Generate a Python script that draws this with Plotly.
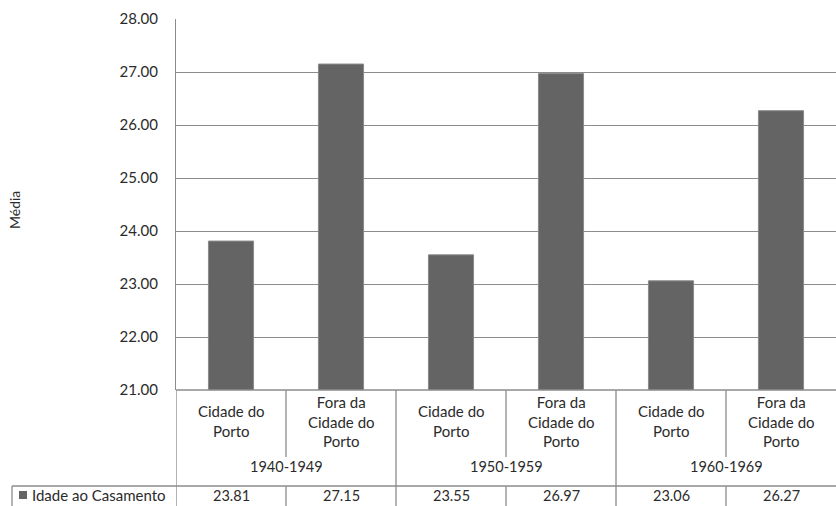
import plotly.graph_objects as go

categories = ["Cidade do<br>Porto", "Fora da<br>Cidade do<br>Porto",
              "Cidade do<br>Porto", "Fora da<br>Cidade do<br>Porto",
              "Cidade do<br>Porto", "Fora da<br>Cidade do<br>Porto"]
groups = ["1940-1949", "1950-1959", "1960-1969"]
values = [23.81, 27.15, 23.55, 26.97, 23.06, 26.27]
series_name = "Idade ao Casamento"
y_ticks = [21, 22, 23, 24, 25, 26, 27, 28]

W, H = 836, 506
L, R, T, B = 176, 836, 19, 390
FONT = "Lato, Carlito, 'Open Sans', sans-serif"
TXT = "#2b2b2b"
LINE = "#8c8c8c"

def py(p):  # pixel y -> paper y
    return (B - p) / (B - T)

def px(p):  # pixel x -> paper x
    return (p - L) / (R - L)

xs = list(range(len(values)))

fig = go.Figure()
fig.add_trace(go.Bar(
    x=xs, y=values, width=0.41, name=series_name,
    marker=dict(color="#646464", line=dict(color="#8a8a8a", width=1)),
    showlegend=False,
))

shapes = []
annotations = []

# category labels
for i, c in enumerate(categories):
    annotations.append(dict(x=i, y=py(421), xref="x", yref="paper", text=c,
                            showarrow=False, font=dict(size=15, color=TXT, family=FONT),
                            align="center", yanchor="middle"))
# group labels
for g, name in enumerate(groups):
    annotations.append(dict(x=2 * g + 0.5, y=py(466), xref="x", yref="paper", text=name,
                            showarrow=False, font=dict(size=14.5, color=TXT, family=FONT),
                            yanchor="middle"))
# values row
for i, v in enumerate(values):
    annotations.append(dict(x=i, y=py(495), xref="x", yref="paper", text=f"{v:.2f}",
                            showarrow=False, font=dict(size=14.5, color=TXT, family=FONT),
                            yanchor="middle"))
# legend key in table
annotations.append(dict(x=px(30), y=py(495), xref="paper", yref="paper", text=series_name,
                        showarrow=False, xanchor="left", yanchor="middle",
                        font=dict(size=15, color=TXT, family=FONT)))
shapes.append(dict(type="rect", xref="paper", yref="paper", x0=px(19), x1=px(27),
                   y0=py(499), y1=py(491), fillcolor="#646464", line=dict(width=0)))
# y-axis title
annotations.append(dict(x=px(14), y=py(210), xref="paper", yref="paper", text="Média",
                        textangle=-90, showarrow=False, xanchor="center", yanchor="middle",
                        font=dict(size=14, color=TXT, family=FONT)))

def vline(x, y0, y1, xref="x"):
    shapes.append(dict(type="line", xref=xref, yref="paper", x0=x, x1=x,
                       y0=py(y0), y1=py(y1), line=dict(color=LINE, width=1.3)))

# group boundaries full height
for g in range(len(groups)):
    vline(2 * g - 0.5, B, H)
# inner dividers within groups
for g in range(len(groups)):
    vline(2 * g + 0.5, B, 457)
    vline(2 * g + 0.5, 486, H)
# legend cell left border
vline(px(12), 486, H, xref="paper")
# horizontal line at top of data row
shapes.append(dict(type="line", xref="paper", yref="paper", x0=px(12), x1=1,
                   y0=py(486), y1=py(486), line=dict(color=LINE, width=1.3)))
# bottom of plot
shapes.append(dict(type="line", xref="paper", yref="paper", x0=0, x1=1,
                   y0=0, y1=0, line=dict(color=LINE, width=1.3)))

fig.update_layout(
    width=W, height=H,
    margin=dict(l=L, r=W - R, t=T, b=H - B),
    paper_bgcolor="white", plot_bgcolor="white",
    font=dict(family=FONT, size=14, color=TXT),
    xaxis=dict(range=[-0.5, len(values) - 0.5], showticklabels=False, showgrid=False,
               zeroline=False, ticks=""),
    yaxis=dict(range=[21, 28], tickvals=y_ticks, tickformat=".2f",
               showgrid=True, gridcolor=LINE, gridwidth=1.3, zeroline=False,
               showline=True, linecolor=LINE, linewidth=1.3, ticks="", ticklen=0,
               ticklabelstandoff=14,
               tickfont=dict(size=15, color=TXT, family=FONT)),
    shapes=shapes, annotations=annotations,
    bargap=0.59,
)

fig.write_html("out.html", config={"displayModeBar": False},
               post_script="document.body.style.margin='0';document.body.style.overflow='hidden';")
